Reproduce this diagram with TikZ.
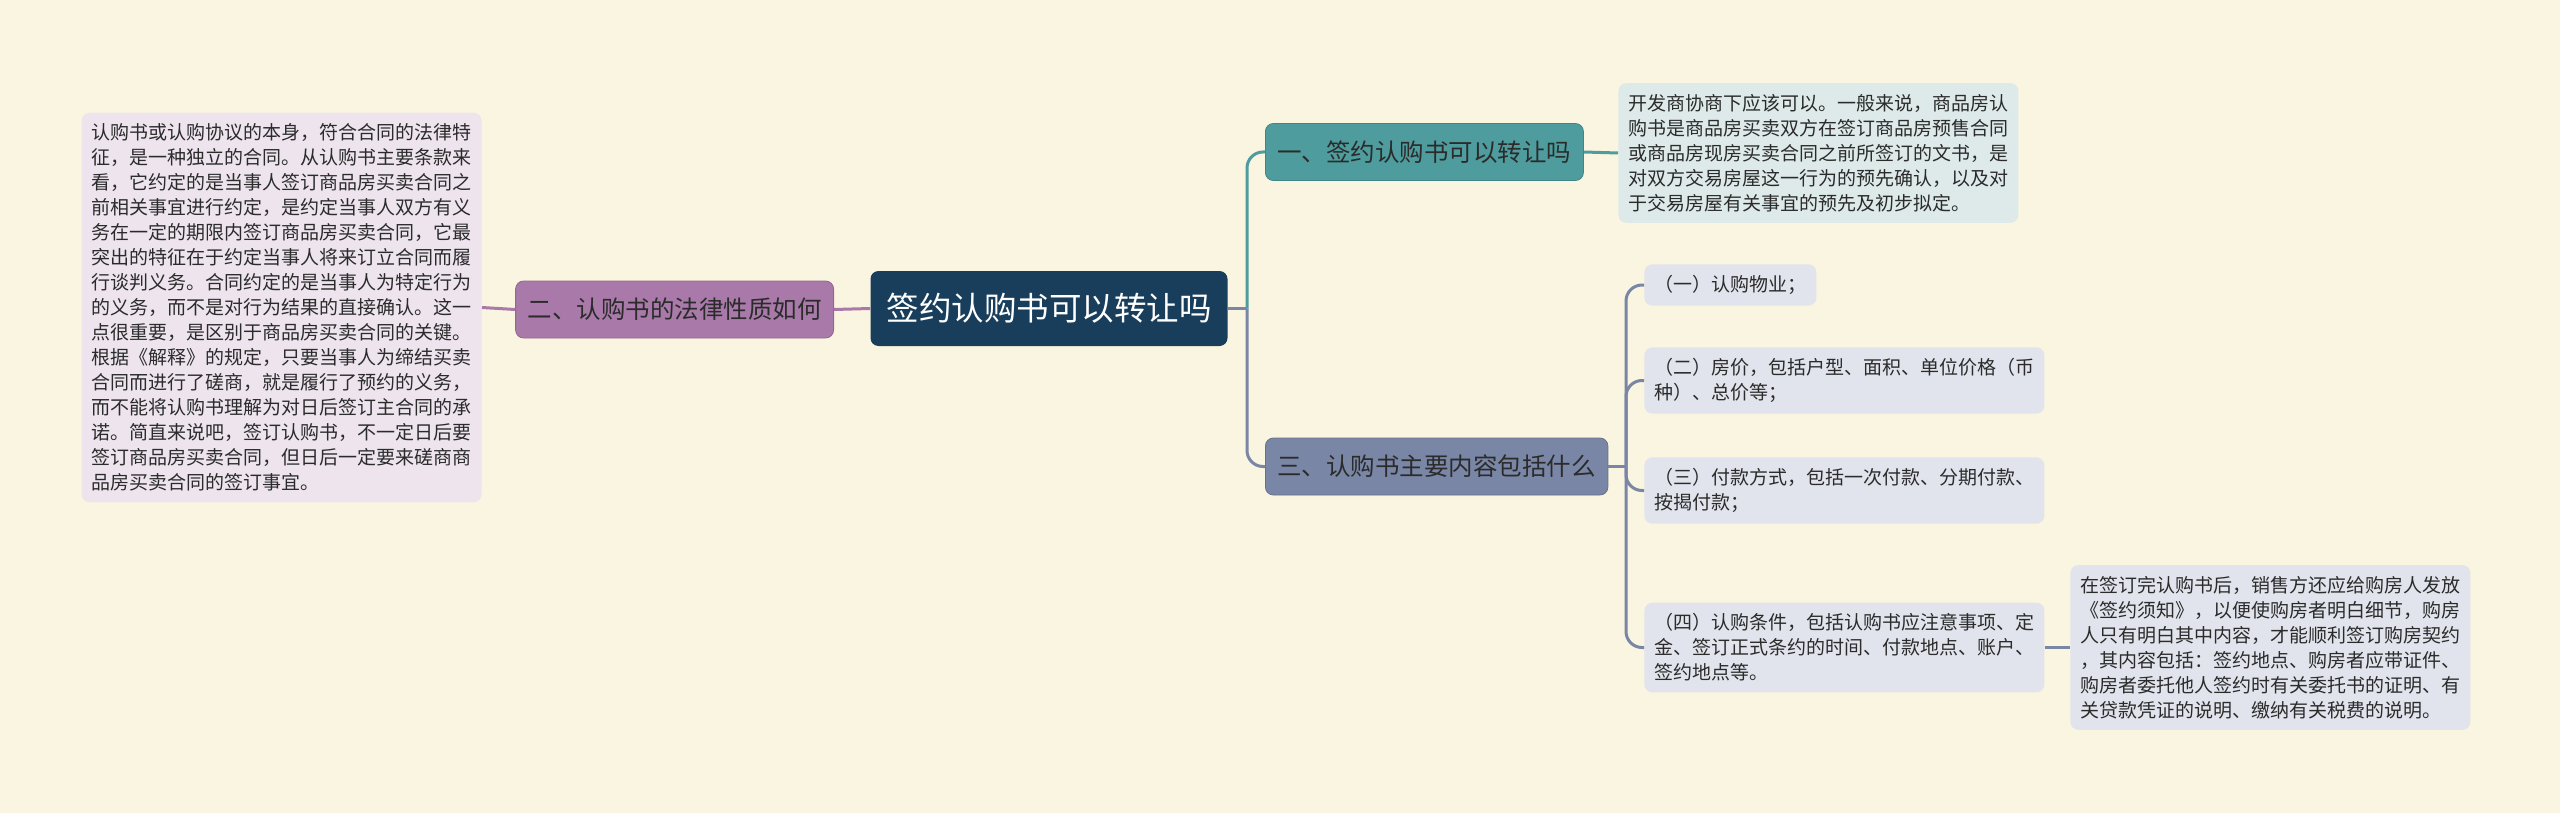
\documentclass[tikz,border=0pt]{standalone}
\usepackage{fontspec}
\newfontfamily\cjk{Noto Sans CJK SC}
\usetikzlibrary{positioning}

\definecolor{bgcream}{HTML}{FAF5E0}
\definecolor{rootblue}{HTML}{183E5C}
\definecolor{tealbox}{HTML}{4E9C9D}
\definecolor{purplebox}{HTML}{A97AA9}
\definecolor{slatebox}{HTML}{7A86A6}
\definecolor{leafpurple}{HTML}{EDE4EE}
\definecolor{leafteal}{HTML}{DDEAE9}
\definecolor{leafslate}{HTML}{E1E4EC}
\definecolor{textdark}{HTML}{2B2B2B}

\tikzset{
  rootbox/.style={fill=rootblue, text=white, rounded corners=4pt, inner xsep=8pt,
    minimum height=37.5pt, font=\cjk\fontsize{16.25}{20}\selectfont},
  branchbox/.style={rounded corners=4pt, inner xsep=6pt, minimum height=28.5pt,
    text=textdark, font=\cjk\fontsize{12.25}{15}\selectfont},
  leafbox/.style={rounded corners=4pt, inner xsep=5pt, inner ysep=5.5pt, align=left,
    text=textdark, font=\cjk\fontsize{9.5}{12.5}\selectfont},
  link/.style={line width=1.5pt}
}

\begin{document}
\begin{tikzpicture}[x=0.5pt, y=-0.5pt]
  \fill[bgcream] (0,0) rectangle (2560,813);
  \useasboundingbox (0,0) rectangle (2560,813);

  % centre
  \node[rootbox] (root) at (1049,308.5) {签约认购书可以转让吗};

  % branches
  \node[branchbox, fill=tealbox, draw=tealbox!85!black, anchor=west] (one) at (1265,152) {一、签约认购书可以转让吗};
  \node[branchbox, fill=purplebox, draw=purplebox!85!black, anchor=east] (two) at (834,309.5) {二、认购书的法律性质如何};
  \node[branchbox, fill=slatebox, draw=slatebox!85!black, anchor=west] (three) at (1265,466.5) {三、认购书主要内容包括什么};

  % leaves
  \node[leafbox, fill=leafteal, anchor=west] (oneleaf) at (1618,153) {开发商协商下应该可以。一般来说，商品房认\\购书是商品房买卖双方在签订商品房预售合同\\或商品房现房买卖合同之前所签订的文书，是\\对双方交易房屋这一行为的预先确认，以及对\\于交易房屋有关事宜的预先及初步拟定。};
  \node[leafbox, fill=leafpurple, anchor=east] (twoleaf) at (482,307.5) {认购书或认购协议的本身，符合合同的法律特\\征，是一种独立的合同。从认购书主要条款来\\看，它约定的是当事人签订商品房买卖合同之\\前相关事宜进行约定，是约定当事人双方有义\\务在一定的期限内签订商品房买卖合同，它最\\突出的特征在于约定当事人将来订立合同而履\\行谈判义务。合同约定的是当事人为特定行为\\的义务，而不是对行为结果的直接确认。这一\\点很重要，是区别于商品房买卖合同的关键。\\根据《解释》的规定，只要当事人为缔结买卖\\合同而进行了磋商，就是履行了预约的义务，\\而不能将认购书理解为对日后签订主合同的承\\诺。简直来说吧，签订认购书，不一定日后要\\签订商品房买卖合同，但日后一定要来磋商商\\品房买卖合同的签订事宜。};
  \node[leafbox, fill=leafslate, anchor=west] (itema) at (1644,285) {（一）认购物业；};
  \node[leafbox, fill=leafslate, anchor=west] (itemb) at (1644,380.5) {（二）房价，包括户型、面积、单位价格（币\\种）、总价等；};
  \node[leafbox, fill=leafslate, anchor=west] (itemc) at (1644,490.5) {（三）付款方式，包括一次付款、分期付款、\\按揭付款；};
  \node[leafbox, fill=leafslate, anchor=west] (itemd) at (1644,647.5) {（四）认购条件，包括认购书应注意事项、定\\金、签订正式条约的时间、付款地点、账户、\\签约地点等。};
  \node[leafbox, fill=leafslate, anchor=west] (itemdleaf) at (2070,647.5) {在签订完认购书后，销售方还应给购房人发放\\《签约须知》，以便使购房者明白细节，购房\\人只有明白其中内容，才能顺利签订购房契约\\，其内容包括：签约地点、购房者应带证件、\\购房者委托他人签约时有关委托书的证明、有\\关贷款凭证的说明、缴纳有关税费的说明。};

  % connectors
  \coordinate (fork) at (1247,308.5);
  \coordinate (forkthree) at (1626,466.5);
  \draw[link, slatebox] (root.east) -- (fork);
  \draw[link, tealbox, rounded corners=8pt] (fork) |- (one.west);
  \draw[link, slatebox, rounded corners=8pt] (fork) |- (three.west);
  \draw[link, tealbox] (one.east) -- (oneleaf.west);
  \draw[link, purplebox] (root.west) -- (two.east);
  \draw[link, purplebox] (two.west) -- (twoleaf.east);
  \draw[link, slatebox] (three.east) -- (forkthree);
  \foreach \item in {itema, itemb, itemc, itemd}
    \draw[link, slatebox, rounded corners=8pt] (forkthree) |- (\item.west);
  \draw[link, slatebox] (itemd.east) -- (itemdleaf.west);
\end{tikzpicture}
\end{document}
